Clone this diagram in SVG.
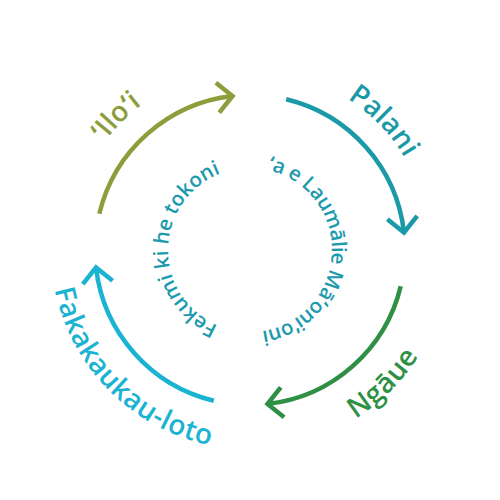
<svg xmlns="http://www.w3.org/2000/svg" width="500" height="500" viewBox="0 0 500 500">
<style>
.arc{fill:none;stroke-width:4.5;stroke-linecap:butt}
.lbl{font-family:"Open Sans","Noto Sans","DejaVu Sans",sans-serif;font-size:28px;font-weight:600}
.inner{font-family:"Open Sans","Noto Sans","DejaVu Sans",sans-serif;font-size:20.5px;font-weight:600;fill:#1d9aae}
</style>
<defs>
<marker id="mOlive" markerUnits="userSpaceOnUse" orient="auto" refX="0" refY="0" markerWidth="40" markerHeight="40" overflow="visible"><path d="M-15,-15 L0,0 L-15,15" fill="none" stroke="#8b9e3b" stroke-width="4.5"/></marker>
<marker id="mTeal" markerUnits="userSpaceOnUse" orient="auto" refX="0" refY="0" markerWidth="40" markerHeight="40" overflow="visible"><path d="M-15,-15 L0,0 L-15,15" fill="none" stroke="#1a9aa6" stroke-width="4.5"/></marker>
<marker id="mGreen" markerUnits="userSpaceOnUse" orient="auto" refX="0" refY="0" markerWidth="40" markerHeight="40" overflow="visible"><path d="M-15,-15 L0,0 L-15,15" fill="none" stroke="#2f8f45" stroke-width="4.5"/></marker>
<marker id="mCyan" markerUnits="userSpaceOnUse" orient="auto" refX="0" refY="0" markerWidth="40" markerHeight="40" overflow="visible"><path d="M-15,-15 L0,0 L-15,15" fill="none" stroke="#1bb3d2" stroke-width="4.5"/></marker>
<path id="pInnerL" d="M248.57,331.99 A82,82 0 0 1 251.43,168.01"/>
<path id="pInnerR" d="M252.86,168.05 A82,82 0 0 1 247.14,331.95"/>
<path id="pIloi" d="M122.01,377.99 A181,181 0 0 1 377.99,122.01"/>
<path id="pPalani" d="M124.27,119.80 A181,181 0 0 1 375.73,380.20"/>
<path id="pNgaue" d="M108.58,391.42 A200,200 0 0 0 391.42,108.58"/>
<path id="pFaka" d="M108.58,108.58 A200,200 0 0 0 391.42,391.42"/>
</defs>
<g id="connectors">
<path class="arc" stroke="#8b9e3b" marker-end="url(#mOlive)" d="M99.3,213.8 A155,155 0 0 1 232.5,96.0"/>
<path class="arc" stroke="#1a9aa6" marker-end="url(#mTeal)" d="M286.2,99.3 A155,155 0 0 1 404.0,232.5"/>
<path class="arc" stroke="#2f8f45" marker-end="url(#mGreen)" d="M400.7,286.2 A155,155 0 0 1 267.5,404.0"/>
<path class="arc" stroke="#1bb3d2" marker-end="url(#mCyan)" d="M213.8,400.7 A155,155 0 0 1 96.0,267.5"/>
</g>
<g id="node-iloi"><text class="lbl" fill="#8b9e3b"><textPath href="#pIloi" startOffset="50%" text-anchor="middle">ʻIloʻi</textPath></text></g>
<g id="node-palani"><text class="lbl" fill="#1a9aa6"><textPath href="#pPalani" startOffset="50%" text-anchor="middle">Palani</textPath></text></g>
<g id="node-ngaue"><text class="lbl" fill="#2f8f45" letter-spacing="0.5"><textPath href="#pNgaue" startOffset="50%" text-anchor="middle">Ngāue</textPath></text></g>
<g id="node-fakakaukau"><text class="lbl" fill="#1bb3d2" letter-spacing="0.5"><textPath href="#pFaka" startOffset="50%" text-anchor="middle">Fakakaukau-loto</textPath></text></g>
<g id="center-text">
<text class="inner"><textPath href="#pInnerL" startOffset="50%" text-anchor="middle">Fekumi ki he tokoni</textPath></text>
<text class="inner" letter-spacing="-0.4"><textPath href="#pInnerR" startOffset="50%" text-anchor="middle">ʻa e Laumālie Māʻoniʻoni</textPath></text>
</g>
</svg>
